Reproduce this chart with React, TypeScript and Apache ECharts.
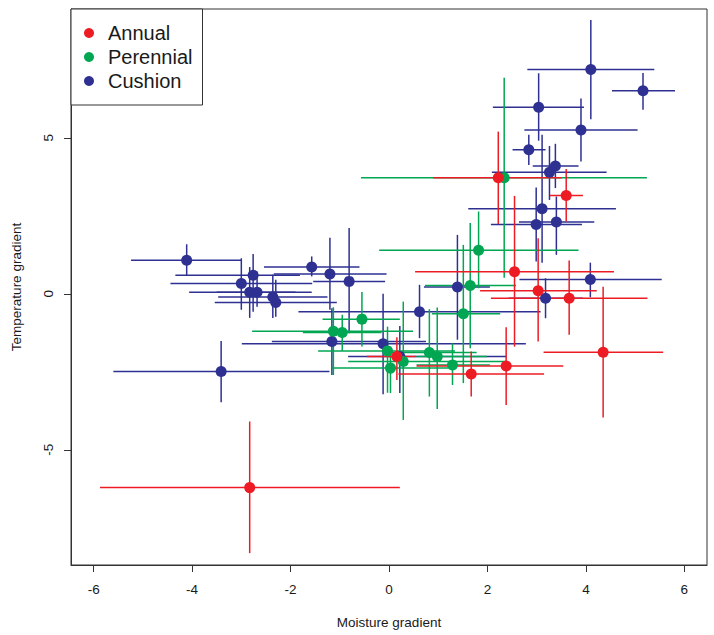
import React, { useEffect, useRef } from "react";
import * as echarts from "echarts";

// ---- Data ----
const seriesNames = ["Annual", "Perennial", "Cushion"];
const seriesColors = ["#ED1C24", "#00A651", "#2E3192"];

const annualX = [2.22, 3.6, 2.55, 3.03, 3.66, 4.35, 2.38, 1.67, 0.16, -2.83];
const annualY = [3.72, 3.15, 0.71, 0.1, -0.14, -1.87, -2.31, -2.57, -2.01, -6.21];
const annualXLo = [0.9, 3.27, 0.53, 1.85, 2.07, 3.14, 0.56, 0.19, -0.45, -5.87];
const annualXHi = [3.51, 3.94, 4.57, 4.22, 5.25, 5.57, 3.54, 3.15, 0.55, 0.22];
const annualYLo = [2.24, 2.32, -1.69, -1.53, -1.31, -3.96, -3.56, -3.29, -2.76, -8.31];
const annualYHi = [5.2, 4.0, 3.14, 1.78, 1.07, 0.23, -1.07, -1.85, -1.39, -4.09];

const perennialX = [2.34, 1.82, 1.65, 1.51, -0.55, -1.13, -0.95, -0.03, 0.03, 0.29, 0.82, 0.98, 1.29];
const perennialY = [3.72, 1.4, 0.27, -0.64, -0.81, -1.2, -1.24, -1.83, -2.38, -2.17, -1.88, -2.01, -2.28];
const perennialXLo = [-0.57, -0.2, 0.73, 0.87, -1.35, -2.78, -1.75, -1.44, -1.15, -0.83, -0.08, 0.56, 0.56];
const perennialXHi = [5.24, 3.85, 2.58, 2.26, 0.22, 0.49, -0.15, 1.34, 1.21, 2.39, 1.78, 1.99, 2.05];
const perennialYLo = [0.52, 0.18, -1.74, -2.86, -1.69, -2.6, -1.82, -3.17, -3.18, -4.04, -3.29, -3.69, -2.92];
const perennialYHi = [6.93, 2.64, 2.27, 1.57, 0.06, -0.43, -0.67, -1.05, -1.69, -0.25, -0.49, -0.44, -1.58];

const cushionX = [4.1, 5.16, 3.04, 3.9, 2.84, 3.38, 3.26, 3.11, 2.99, 3.4, 4.09, 3.18, 1.39, 0.62, -0.81, -1.2, -1.57, -4.11, -3.0, -2.76, -2.83, -2.68, -2.36, -2.3, -3.41, -1.16, -0.12, 0.22];
const cushionY = [7.19, 6.51, 5.98, 5.25, 4.62, 4.1, 3.9, 2.73, 2.22, 2.3, 0.46, -0.14, 0.22, -0.57, 0.4, 0.64, 0.86, 1.08, 0.33, 0.6, 0.05, 0.05, -0.1, -0.28, -2.49, -1.53, -1.6, -2.01];
const cushionXLo = [2.81, 4.53, 2.11, 2.75, 2.51, 2.92, 2.09, 1.61, 2.07, 2.64, 2.65, 2.43, 0.71, -1.84, -1.54, -2.34, -2.54, -5.24, -4.44, -4.34, -4.06, -3.5, -3.47, -3.54, -5.6, -2.38, -2.99, -0.83];
const cushionXHi = [5.39, 5.81, 3.96, 5.05, 3.18, 3.85, 4.42, 4.61, 3.92, 4.17, 5.54, 3.94, 2.05, 3.08, -0.08, -0.05, -0.6, -2.99, -1.56, -1.81, -1.57, -1.9, -1.25, -1.06, -1.21, 0.75, 2.78, 2.39];
const cushionYLo = [5.6, 5.9, 4.91, 4.24, 4.13, 3.39, 3.01, 1.0, 1.04, 1.25, -0.11, -0.78, -1.47, -1.42, -1.26, -0.51, 0.56, 0.59, -0.51, -0.57, -0.77, -0.41, -0.77, -0.73, -3.47, -2.6, -3.22, -3.18];
const cushionYHi = [8.78, 7.08, 7.07, 6.26, 5.1, 4.81, 4.74, 5.1, 3.41, 3.12, 1.0, 0.5, 1.89, 0.29, 2.11, 1.8, 1.2, 1.59, 1.14, 1.28, 0.86, 0.72, 0.61, 0.45, -1.51, -0.46, 0.0, -1.03];

const xTicks = [-6, -4, -2, 0, 2, 4, 6];
const yTicks = [-5, 0, 5];

const FONT = "'Liberation Sans', Arial, Helvetica, sans-serif";

function rows(x: number[], y: number[], xlo: number[], xhi: number[], ylo: number[], yhi: number[]) {
  return x.map((v, i) => [v, y[i], xlo[i], xhi[i], ylo[i], yhi[i]]);
}

const groups = [
  rows(annualX, annualY, annualXLo, annualXHi, annualYLo, annualYHi),
  rows(perennialX, perennialY, perennialXLo, perennialXHi, perennialYLo, perennialYHi),
  rows(cushionX, cushionY, cushionXLo, cushionXHi, cushionYLo, cushionYHi),
];

export default function App() {
  const ref = useRef<HTMLDivElement>(null);
  useEffect(() => {
    if (!ref.current) return;
    const chart = echarts.init(ref.current, undefined, { renderer: "svg" });

    const errSeries = [2, 1, 0].map((g) => ({
      type: "custom",
      name: seriesNames[g] + " error",
      data: groups[g],
      encode: { x: 0, y: 1 },
      silent: true,
      z: 1,
      renderItem: (params: any, api: any) => {
        const x = api.value(0);
        const y = api.value(1);
        const pL = api.coord([api.value(2), y]);
        const pR = api.coord([api.value(3), y]);
        const pB = api.coord([x, api.value(4)]);
        const pT = api.coord([x, api.value(5)]);
        const st = { stroke: seriesColors[g], lineWidth: 1.5 };
        return {
          type: "group",
          children: [
            { type: "line", shape: { x1: pL[0], y1: pL[1], x2: pR[0], y2: pR[1] }, style: st },
            { type: "line", shape: { x1: pB[0], y1: pB[1], x2: pT[0], y2: pT[1] }, style: st },
          ],
        };
      },
    }));

    const ptSeries = [2, 1, 0].map((g) => ({
      type: "scatter",
      name: seriesNames[g],
      data: groups[g].map((r) => [r[0], r[1]]),
      symbol: "circle",
      symbolSize: 11,
      itemStyle: { color: seriesColors[g], opacity: 1 },
      z: 3,
    }));

    chart.setOption({
      animation: false,
      backgroundColor: "#ffffff",
      textStyle: { fontFamily: FONT },
      grid: {
        left: 71,
        right: 7,
        top: 9,
        bottom: 70,
        show: true,
        borderColor: "#333",
        borderWidth: 1,
        backgroundColor: "transparent",
      },
      legend: {
        data: seriesNames,
        orient: "vertical",
        left: 71,
        top: 9,
        padding: [12, 10, 12, 13],
        itemGap: 0,
        itemWidth: 10,
        itemHeight: 10,
        icon: "circle",
        borderColor: "#333",
        borderWidth: 1,
        backgroundColor: "#fff",
        textStyle: { fontSize: 20, fontFamily: FONT, color: "#1a1a1a", lineHeight: 24, padding: [0, 0, 0, 9] },
      },
      xAxis: {
        type: "value",
        min: -6.46,
        max: 6.46,
        name: "Moisture gradient",
        nameLocation: "middle",
        nameGap: 50,
        nameTextStyle: { fontSize: 13.5, color: "#1a1a1a", fontFamily: FONT },
        axisLine: { show: true, onZero: false, lineStyle: { color: "#333" } },
        axisTick: { show: true, length: 7, inside: false, customValues: xTicks, lineStyle: { color: "#333" } },
        axisLabel: { customValues: xTicks, fontSize: 13.5, color: "#1a1a1a", margin: 17, fontFamily: FONT },
        splitLine: { show: false },
      },
      yAxis: {
        type: "value",
        min: -8.69,
        max: 9.13,
        name: "Temperature gradient",
        nameLocation: "middle",
        nameRotate: 90,
        nameGap: 48,
        nameTextStyle: { fontSize: 13.5, color: "#1a1a1a", fontFamily: FONT },
        axisLine: { show: true, onZero: false, lineStyle: { color: "#333" } },
        axisTick: { show: true, length: 7, customValues: yTicks, lineStyle: { color: "#333" } },
        axisLabel: { customValues: yTicks, rotate: 90, fontSize: 13.5, color: "#1a1a1a", margin: 16, fontFamily: FONT },
        splitLine: { show: false },
      },
      series: [...errSeries, ...ptSeries],
    });
    return () => chart.dispose();
  }, []);
  return (
    <div
      ref={ref}
      style={{ position: "fixed", left: 0, top: 0, width: 714, height: 635, background: "#fff" }}
    />
  );
}
